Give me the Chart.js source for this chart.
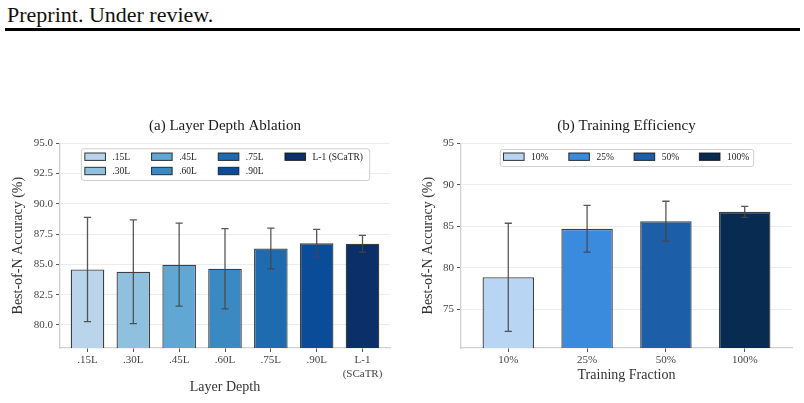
<!DOCTYPE html>
<html><head><meta charset="utf-8">
<script src="https://cdn.jsdelivr.net/npm/chart.js@4.4.1/dist/chart.umd.min.js"></script>
<style>
html,body{margin:0;padding:0;background:#fff;width:804px;height:403px;overflow:hidden;position:relative;font-family:'Liberation Serif',serif;}
#hdr{position:absolute;left:7px;top:3.6px;font-size:22px;line-height:22px;color:#111;white-space:nowrap;}
#rule{position:absolute;left:5px;top:28.3px;width:795px;height:3px;background:#000;}
#c1{position:absolute;left:0;top:0;}
#c2{position:absolute;left:402px;top:0;}
</style></head><body>
<div id="hdr">Preprint. Under review.</div>
<div id="rule"></div>
<canvas id="c1" width="402" height="403"></canvas>
<canvas id="c2" width="402" height="403"></canvas>
<script>
// ---- data ----
const depthLabels = ['.15L', '.30L', '.45L', '.60L', '.75L', '.90L', 'L-1 (SCaTR)'];
const depthTickLabels = ['.15L', '.30L', '.45L', '.60L', '.75L', '.90L', ['L-1', '(SCaTR)']];
const depthMeans = [84.58, 84.40, 84.98, 84.64, 86.32, 86.74, 86.71];
const depthStds = [4.30, 4.28, 3.43, 3.31, 1.68, 1.15, 0.69];
const depthColors = ['#bad5eb', '#8fc0de', '#61a7d3', '#3b89c3', '#1f6bb0', '#0b4c99', '#0a2f69'];
const depthYTicks = [80, 82.5, 85, 87.5, 90, 92.5, 95];

const fracLabels = ['10%', '25%', '50%', '100%'];
const fracMeans = [78.83, 84.68, 85.60, 86.73];
const fracStds = [6.52, 2.82, 2.41, 0.67];
const fracColors = ['#b8d6f3', '#3a8ade', '#1c5ea8', '#082b52'];
const fracYTicks = [75, 80, 85, 90, 95];

const FONT = "'Liberation Serif', serif";
Chart.defaults.font.family = FONT;
Chart.defaults.color = '#444';

const overlay = {
  id: 'overlay',
  afterDatasetsDraw(chart, args, o) {
    const {ctx, chartArea: a, scales: {x, y}} = chart;
    ctx.save();
    ctx.beginPath();
    ctx.rect(a.left, a.top, a.right - a.left, a.bottom - a.top);
    ctx.clip();
    ctx.strokeStyle = 'rgba(70,70,70,0.9)';
    ctx.lineWidth = 1.3;
    o.means.forEach((m, i) => {
      const px = x.getPixelForValue(i);
      const t = y.getPixelForValue(m + o.stds[i]);
      const b = y.getPixelForValue(m - o.stds[i]);
      ctx.beginPath();
      ctx.moveTo(px, t); ctx.lineTo(px, b);
      ctx.moveTo(px - 3.6, t); ctx.lineTo(px + 3.6, t);
      ctx.moveTo(px - 3.6, b); ctx.lineTo(px + 3.6, b);
      ctx.stroke();
    });
    ctx.restore();
  },
  afterDraw(chart, args, o) {
    const {ctx, chartArea: a} = chart;
    const cx = (a.left + a.right) / 2;
    ctx.save();
    ctx.fillStyle = '#1a1a1a';
    ctx.font = "15px " + FONT;
    ctx.textAlign = 'center';
    ctx.textBaseline = 'middle';
    ctx.fillText(o.title, cx, 125.7);
    // legend
    const L = o.legend;
    const bx = cx - L.width / 2, by = a.top + L.top;
    ctx.beginPath();
    if (ctx.roundRect) ctx.roundRect(bx + 0.5, by + 0.5, L.width, L.height, 2.5);
    else ctx.rect(bx + 0.5, by + 0.5, L.width, L.height);
    ctx.fillStyle = 'rgba(255,255,255,0.9)';
    ctx.fill();
    ctx.strokeStyle = '#cfcfcf';
    ctx.lineWidth = 1;
    ctx.stroke();
    ctx.font = "9.5px " + FONT;
    ctx.textAlign = 'left';
    o.labels.forEach((lab, i) => {
      const col = Math.floor(i / L.rows), row = i % L.rows;
      const px = bx + L.padX + col * L.colStep;
      const py = by + L.rowY[row];
      ctx.fillStyle = o.colors[i];
      ctx.fillRect(px, py - 3.7, 20.6, 7.4);
      ctx.strokeStyle = 'rgba(20,20,20,0.85)';
      ctx.lineWidth = 1;
      ctx.strokeRect(px, py - 3.7, 20.6, 7.4);
      ctx.fillStyle = '#222';
      ctx.fillText(lab, px + 27.6, py + 0.5);
    });
    ctx.restore();
  }
};

function makeChart(id, cfg) {
  const n = cfg.means.length;
  return new Chart(document.getElementById(id), {
    type: 'bar',
    data: {
      datasets: [{
        data: cfg.means.map((m, i) => ({x: i, y: m})),
        backgroundColor: cfg.colors,
        borderColor: 'rgba(15,15,15,0.8)',
        borderWidth: 1.3,
        borderSkipped: 'start',
        barPercentage: cfg.barPct,
        categoryPercentage: 1
      }]
    },
    options: {
      responsive: false,
      animation: false,
      devicePixelRatio: 1,
      layout: {padding: cfg.padding},
      plugins: {
        legend: {display: false},
        tooltip: {enabled: false},
        overlay: {title: cfg.title, means: cfg.means, stds: cfg.stds, colors: cfg.colors, labels: cfg.labels, legend: cfg.legend}
      },
      scales: {
        x: {
          type: 'linear',
          offset: false,
          min: -0.6, max: n - 0.4,
          afterBuildTicks: s => { s.ticks = cfg.means.map((m, i) => ({value: i})); },
          afterFit: s => { s.height = cfg.xHeight; },
          ticks: {
            callback: v => cfg.tickLabels[v],
            font: {size: 11, lineHeight: 1.27},
            color: '#444',
            padding: 1,
            maxRotation: 0,
            autoSkip: false
          },
          grid: {display: true, offset: false, drawOnChartArea: false, tickLength: 4, tickColor: '#555', lineWidth: 1},
          border: {color: '#d0d0d0', width: 1.3},
          title: {display: true, text: cfg.xTitle, font: {size: 14}, color: '#333', padding: 4}
        },
        y: {
          type: 'linear',
          min: cfg.yMin, max: 95,
          afterBuildTicks: s => { s.ticks = cfg.yTicks.map(v => ({value: v})); },
          afterFit: s => { s.width = cfg.yWidth; },
          ticks: {
            callback: cfg.yFmt,
            font: {size: 11},
            color: '#444',
            padding: 3
          },
          grid: {color: '#ececec', lineWidth: 1, tickLength: 4, tickColor: '#555'},
          border: {color: '#d0d0d0', width: 1.3},
          title: {display: true, text: 'Best-of-N Accuracy (%)', font: {size: 14}, color: '#333', padding: 4}
        }
      }
    },
    plugins: [overlay]
  });
}

makeChart('c1', {
  means: depthMeans, stds: depthStds, colors: depthColors, labels: depthLabels,
  tickLabels: depthTickLabels, yTicks: depthYTicks, yMin: 78.1, yFmt: v => Number(v).toFixed(1),
  title: '(a) Layer Depth Ablation', xTitle: 'Layer Depth', barPct: 0.733,
  padding: {left: 6, right: 12, top: 143.3, bottom: 2.9}, yWidth: 54, xHeight: 52.1,
  legend: {width: 288.3, height: 31.7, top: 5, rows: 2, padX: 4, colStep: 66.7, rowY: [8.4, 22.7]}
});

makeChart('c2', {
  means: fracMeans, stds: fracStds, colors: fracColors, labels: fracLabels,
  tickLabels: fracLabels, yTicks: fracYTicks, yMin: 70.3, yFmt: v => String(v),
  title: '(b) Training Efficiency', xTitle: 'Training Fraction', barPct: 0.653,
  padding: {left: 13.6, right: 12, top: 143.3, bottom: 14.9}, yWidth: 45.4, xHeight: 40.1,
  legend: {width: 253.4, height: 17, top: 5.7, rows: 1, padX: 3.7, colStep: 65.3, rowY: [7.7]}
});
</script></body></html>
